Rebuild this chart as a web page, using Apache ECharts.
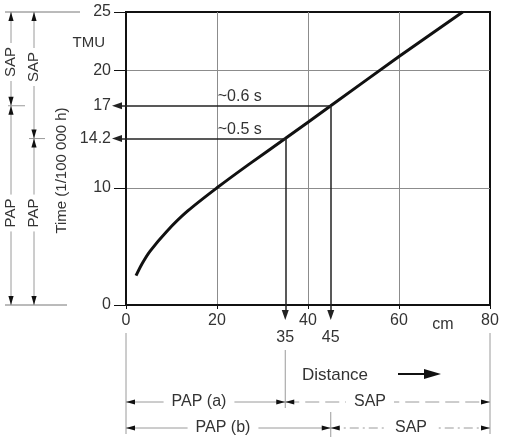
<!DOCTYPE html>
<html>
<head>
<meta charset="utf-8">
<script src="https://cdn.jsdelivr.net/npm/echarts@6/dist/echarts.min.js"></script>
<style>
  html, body { margin: 0; padding: 0; background: #fff; }
  #chart { width: 507px; height: 442px; }
</style>
</head>
<body>
<div id="chart"></div>
<script>
// curve (cm, TMU)
const distance = [2.2, 3.5, 5.3, 9, 13.5, 20, 27, 35, 45, 60, 74]
const time = [2.5, 3.5, 4.6, 6.3, 8.0, 10, 12.0, 14.2, 17, 21.2, 25]

const xTickValues = [0, 20, 40, 60, 80]
const xLabelValues = [0, 20, 35, 40, 45, 60, 80]
const yTickValues = [0, 10, 20, 25]
const yLabelValues = [0, 10, 14.2, 17, 20, 25]

// the two readings: (a) 35 cm -> 14.2, (b) 45 cm -> 17
const readDistance = [35, 45]
const readTime = [14.2, 17]
const readLabels = ['~0.5 s', '~0.6 s']

const FONT = '"Liberation Sans", Arial, Helvetica, sans-serif'
const INK = '#111'
const TXT = '#333'
const DIM = '#9a9a9a'

const chart = echarts.init(document.getElementById('chart'))

chart.setOption({
  animation: false,
  textStyle: { fontFamily: FONT },
  grid: {
    left: 126, right: 17, top: 12, bottom: 137,
    show: true, borderColor: INK, borderWidth: 2
  },
  xAxis: {
    type: 'value',
    min: 0,
    max: 80,
    interval: 20,
    axisLine: { lineStyle: { color: INK, width: 2 } },
    axisTick: { customValues: xTickValues, length: 4, lineStyle: { color: INK } },
    axisLabel: {
      customValues: xLabelValues,
      margin: 8,
      fontSize: 16,
      color: TXT,
      formatter: (v) => readDistance.includes(v) ? '{low|' + v + '}' : String(v),
      rich: {
        low: { lineHeight: 50, fontSize: 16, color: TXT }
      }
    },
    splitLine: {
      showMinLine: false,
      showMaxLine: false,
      lineStyle: { color: '#8c8c8c', width: 1 }
    }
  },
  yAxis: {
    type: 'value',
    min: 0,
    max: 25,
    interval: 10,
    name: 'Time (1/100 000 h)',
    nameLocation: 'middle',
    nameGap: 56,
    nameTextStyle: { fontSize: 15, color: TXT, padding: [0, 24, 0, 0] },
    axisLine: { show: true, lineStyle: { color: INK, width: 2 } },
    axisTick: { show: true, customValues: yTickValues, length: 12, lineStyle: { color: INK } },
    axisLabel: { customValues: yLabelValues, margin: 15, fontSize: 16, color: TXT },
    splitLine: {
      showMinLine: false,
      showMaxLine: false,
      lineStyle: { color: '#8c8c8c', width: 1 }
    }
  },
  series: [
    {
      type: 'line',
      data: distance.map((d, i) => [d, time[i]]),
      showSymbol: false,
      smooth: 0.3,
      clip: false,
      silent: true,
      lineStyle: { color: INK, width: 3 },
      markPoint: {
        silent: true,
        symbol: 'rect',
        symbolSize: 1,
        itemStyle: { color: 'rgba(0,0,0,0)' },
        label: {
          show: true,
          position: 'inside',
          formatter: (p) => p.name,
          color: TXT,
          fontSize: 16,
          fontFamily: FONT
        },
        data: readLabels.map((s, i) => ({ name: s, coord: [25, readTime[i] + 0.75] }))
      }
    }
  ]
})

// pixel helpers from the chart's own scales
const px = (x, y) => chart.convertToPixel({ gridIndex: 0 }, [x, y])

// reading arrows: from the curve to the y axis (past it) and down past the x axis
const readLines = []
readDistance.forEach((d, i) => {
  const [ax, ay] = px(0, readTime[i])
  const [bx, by] = px(d, 0)
  readLines.push([{ coord: [d, readTime[i]] }, { x: ax - 9, y: ay }])
  readLines.push([{ coord: [d, readTime[i]] }, { x: bx, y: by + 10 }])
})

function arrow(tx, ty, dx, dy, len, half) {
  len = len || 9
  half = half || 2.6
  const bx = tx - dx * len
  const by = ty - dy * len
  return {
    type: 'polygon',
    silent: true,
    shape: { points: [[tx, ty], [bx - dy * half, by + dx * half], [bx + dy * half, by - dx * half]] },
    style: { fill: INK }
  }
}

function seg(x1, y1, x2, y2, color, width, dash) {
  return {
    type: 'line',
    silent: true,
    shape: { x1, y1, x2, y2 },
    style: { stroke: color || DIM, lineWidth: width || 1, lineDash: dash || null }
  }
}

function label(text, x, y, opts) {
  opts = opts || {}
  return {
    type: 'text',
    silent: true,
    x, y,
    rotation: opts.rotate ? Math.PI / 2 : 0,
    z: 10,
    style: {
      text,
      fontFamily: FONT,
      fontSize: opts.size || 15,
      fill: TXT,
      align: opts.align || 'center',
      verticalAlign: 'middle',
      backgroundColor: opts.bg === false ? null : '#fff',
      padding: opts.pad || [0, 5]
    }
  }
}

const [x0, y0] = px(0, 0)
const [x80, y25] = px(80, 25)
const g = []

// left-hand dimension lines (time split into PAP / SAP)
g.push(seg(5, y25, 80, y25, '#777'))
g.push(seg(5, y0, 67, y0, '#777'))
const leftDims = [
  { x: 11, split: readTime[1], tick: [8, 25], sapY: 62 },
  { x: 34, split: readTime[0], tick: [29, 45], sapY: 67 }
]
leftDims.forEach((dm) => {
  const ys = px(0, dm.split)[1]
  g.push(seg(dm.x, y25, dm.x, y0))
  g.push(seg(dm.tick[0], ys, dm.tick[1], ys))
  g.push(arrow(dm.x, y25, 0, -1))
  g.push(arrow(dm.x, y0, 0, 1))
  g.push(arrow(dm.x, ys, 0, 1))
  g.push(arrow(dm.x, ys, 0, -1))
  g.push(label('SAP', dm.x, dm.sapY, { rotate: true, pad: [4, 4] }))
  g.push(label('PAP', dm.x, 213, { rotate: true, pad: [4, 4] }))
})

// bottom dimension lines (distance split into PAP / SAP)
const xa = px(readDistance[0], 0)[0]
const xb = px(readDistance[1], 0)[0]
g.push(seg(x0, 333, x0, 434))
g.push(seg(x80, 333, x80, 434))
g.push(seg(xa, 350, xa, 408))
g.push(seg(xb, 412, xb, 437))

const rows = [
  { y: 402, split: xa, pap: 'PAP (a)', papX: 199, sapX: 370, dash: [14, 6] },
  { y: 428, split: xb, pap: 'PAP (b)', papX: 223, sapX: 411, dash: [9, 4, 2, 4] }
]
rows.forEach((r) => {
  g.push(seg(x0, r.y, r.split, r.y))
  g.push(seg(r.split, r.y, x80, r.y, DIM, 1, r.dash))
  g.push(arrow(x0, r.y, -1, 0))
  g.push(arrow(r.split, r.y, 1, 0))
  g.push(arrow(r.split, r.y, -1, 0))
  g.push(arrow(x80, r.y, 1, 0))
  g.push(label(r.pap, r.papX, r.y, { size: 16, pad: [0, 8] }))
  g.push(label('SAP', r.sapX, r.y, { size: 16, pad: [0, 8] }))
})

// other annotations
g.push(label('TMU', 110, 43, { align: 'right', bg: false, pad: 0 }))
g.push(label('cm', 443, 325, { size: 16, bg: false, pad: 0 }))
g.push(label('Distance', 335, 375, { size: 17, bg: false, pad: 0 }))
g.push(seg(398, 374, 425, 374, INK, 2))
g.push(arrow(441, 374, 1, 0, 17, 5))

chart.setOption({
  series: [{
    markLine: {
      silent: true,
      animation: false,
      symbol: ['none', 'triangle'],
      symbolSize: [7, 10],
      label: { show: false },
      emphasis: { disabled: true },
      lineStyle: { color: '#222', width: 1.5, type: 'solid' },
      data: readLines
    }
  }],
  graphic: g
})
</script>
</body>
</html>
